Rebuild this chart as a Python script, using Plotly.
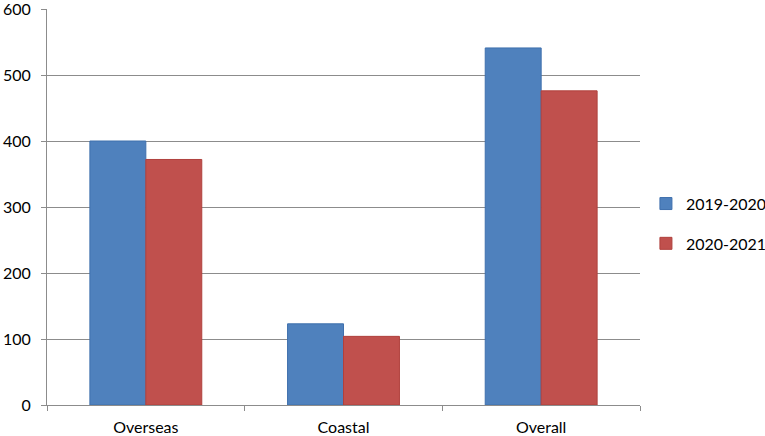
import plotly.graph_objects as go

categories = ["Overseas", "Coastal", "Overall"]
series_names = ["2019-2020", "2020-2021"]
values_2019_2020 = [400, 123, 541]
values_2020_2021 = [372, 104, 476]
y_ticks = [0, 100, 200, 300, 400, 500, 600]

colors = ["#4F81BD", "#C0504D"]
line_colors = ["#3F70AD", "#B0403D"]

fig = go.Figure()
for name, vals, c, lc in zip(series_names, [values_2019_2020, values_2020_2021], colors, line_colors):
    fig.add_trace(go.Bar(x=categories, y=vals, name=name, legendgroup=name,
                         marker=dict(color=c, line=dict(color=lc, width=1))))

font = "Lato, 'Open Sans', sans-serif"
fig.update_layout(
    width=765, height=436,
    margin=dict(l=47, r=125, t=9, b=31, autoexpand=False),
    paper_bgcolor="white", plot_bgcolor="white",
    barmode="group", bargap=0.434, bargroupgap=0,
    font=dict(family=font, size=16, color="black"),
    showlegend=True,
    legend=dict(x=1.01, y=0.458, yanchor="middle", xanchor="left",
                font=dict(size=16), traceorder="grouped", tracegroupgap=16,
                itemwidth=30, bgcolor="rgba(0,0,0,0)"),
)
fig.update_yaxes(range=[0, 600], tickvals=y_ticks, showgrid=True,
                 gridcolor="#8C8C8C", gridwidth=1, showline=True,
                 linecolor="#8C8C8C", linewidth=1, ticks="outside",
                 ticklen=5, tickcolor="#8C8C8C", zeroline=False,
                 tickfont=dict(size=16), automargin=False,
                 ticklabeloverflow="allow", ticklabelstandoff=7)
fig.update_xaxes(showline=True, linecolor="#8C8C8C", linewidth=1,
                 ticks="outside", tickson="boundaries", ticklen=5,
                 tickcolor="#8C8C8C", tickfont=dict(size=16), automargin=False,
                 ticklabeloverflow="allow", ticklabelstandoff=8)

fig.write_html("out.html", config={"displayModeBar": False},
               post_script="document.body.style.margin='0';document.body.style.overflow='hidden';")
